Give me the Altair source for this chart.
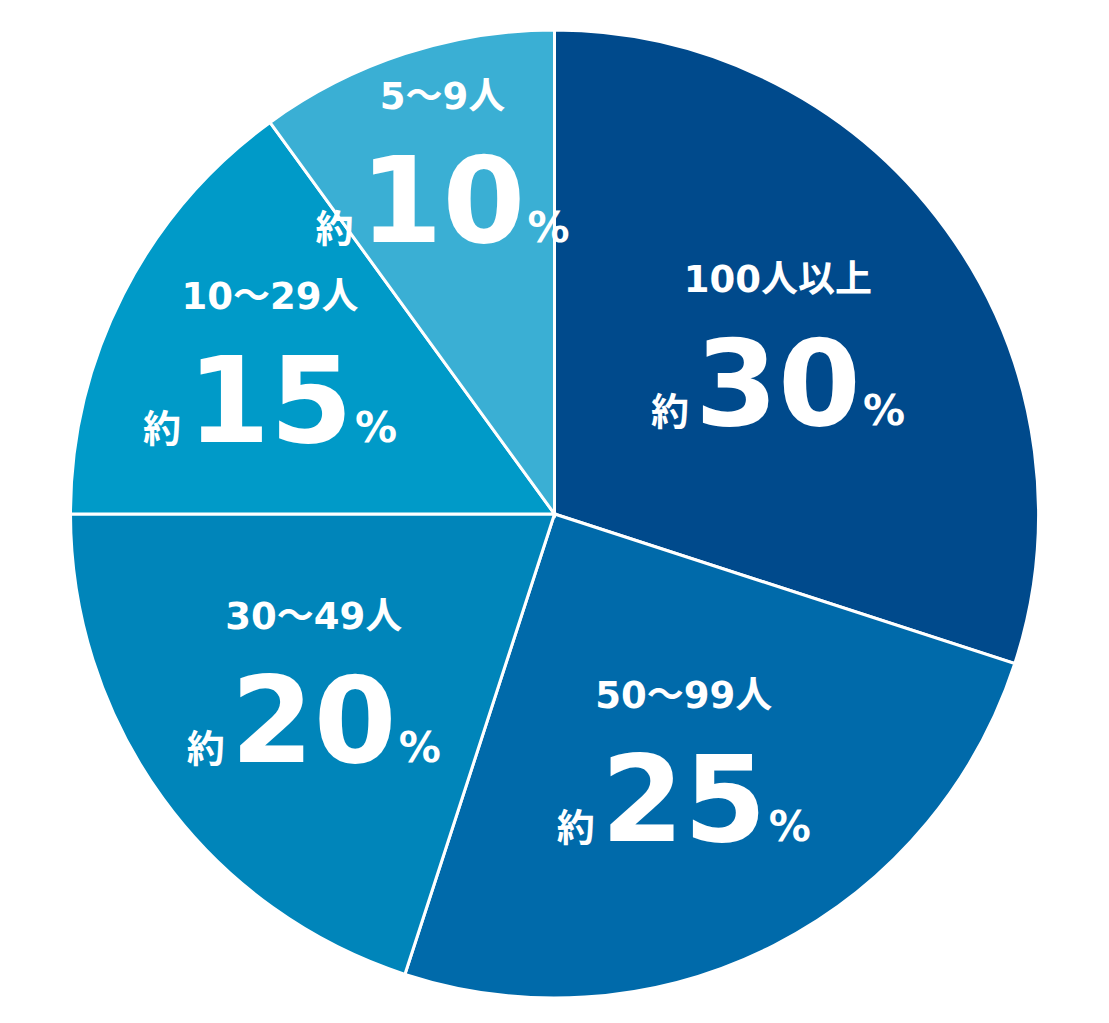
import altair as alt
import pandas as pd

# Share of workplaces by number of employees (clockwise from 12 o'clock)
categories = ["100人以上", "50～99人", "30～49人", "10～29人", "5～9人"]
shares = [30, 25, 20, 15, 10]
colors = ["#004A8C", "#006AAA", "#0085BA", "#009AC8", "#3AAFD4"]

df = pd.DataFrame({
    "category": categories,
    "share": shares,
    "order": list(range(len(categories))),
    "num": [str(v) for v in shares],
    "approx": ["約"] * len(categories),
    "pct": ["%"] * len(categories),
})

LATIN = "DejaVu Sans, Noto Sans CJK JP, sans-serif"
CJK = "Noto Sans CJK JP, DejaVu Sans, sans-serif"

theta_scale = alt.Scale(domain=[0, sum(shares)])
color_scale = alt.Scale(domain=categories, range=colors)

pie = alt.Chart(df).mark_arc(outerRadius=484, stroke="white", strokeWidth=3).encode(
    theta=alt.Theta("share:Q", stack=True, scale=theta_scale),
    order=alt.Order("order:Q"),
    color=alt.Color("category:N", scale=color_scale, legend=None, sort=categories),
)

# labels sit at each slice's mid-angle; narrower slices push their labels
# further out so the text block fits between the slice edges
labelled = (
    alt.Chart(df)
    .transform_window(cum="sum(share)", sort=[alt.SortField("order")])
    .transform_calculate(
        mid="datum.cum - datum.share / 2",
        label_r="233 + 1294 / datum.share",
    )
    .encode(
        theta=alt.Theta("mid:Q", stack=None, scale=theta_scale),
        radius=alt.Radius("label_r:Q", scale=None),
    )
)

cat_text = labelled.mark_text(
    font=LATIN, fontSize=37, fontWeight="bold", color="white",
    align="center", baseline="alphabetic", dy=-60,
).encode(text="category:N")

num_text = labelled.mark_text(
    font=LATIN, fontSize=119, fontWeight="bold", color="white",
    align="center", baseline="alphabetic", dy=73,
).encode(text="num:N")

approx_text = labelled.mark_text(
    font=CJK, fontSize=38, fontWeight="bold", color="white",
    align="right", baseline="alphabetic", dy=73, dx=-89,
).encode(text="approx:N")

pct_text = labelled.mark_text(
    font=LATIN, fontSize=42, fontWeight="bold", color="white",
    align="left", baseline="alphabetic", dy=73, dx=85,
).encode(text="pct:N")

chart = (
    alt.layer(pie, cat_text, num_text, approx_text, pct_text)
    .properties(
        width=1109,
        height=1018,
        padding={"top": 5, "bottom": 0, "left": 0, "right": 0},
        autosize=alt.AutoSizeParams(type="none"),
        background="white",
    )
    .configure_view(strokeWidth=0)
)

chart.save("out.html", embed_options={"renderer": "svg", "actions": False})
